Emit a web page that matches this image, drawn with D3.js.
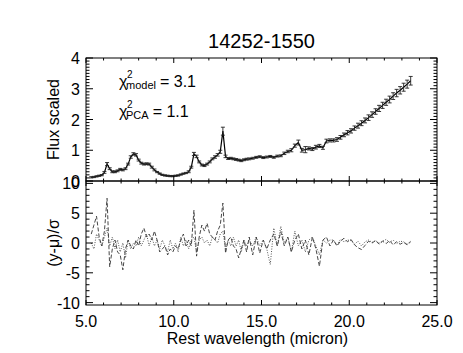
<!DOCTYPE html>
<html><head><meta charset="utf-8">
<script src="https://cdn.jsdelivr.net/npm/d3@7"></script>
<style>
html,body{margin:0;padding:0;background:#fff;}
svg{display:block;font-family:"Liberation Sans",Arial,Helvetica,sans-serif;}
</style></head>
<body>
<svg id="c" width="463" height="353"></svg>
<script>
const title = "14252-1550";
const wave = [5.3,5.45,5.6,5.75,5.9,6.05,6.2,6.35,6.5,6.65,6.8,6.95,7.1,7.25,7.4,7.55,7.7,7.85,8.0,8.15,8.3,8.45,8.6,8.75,8.9,9.05,9.2,9.35,9.5,9.65,9.8,9.95,10.1,10.25,10.4,10.55,10.7,10.85,11.0,11.15,11.3,11.45,11.6,11.75,11.9,12.05,12.2,12.35,12.5,12.65,12.8,12.95,13.1,13.25,13.4,13.55,13.7,13.85,14.0,14.15,14.3,
14.5,14.7,14.9,15.1,15.3,15.5,15.7,15.9,16.1,16.3,16.5,16.7,16.9,17.1,17.3,17.5,17.7,17.9,18.1,18.3,18.5,18.7,18.9,19.1,19.3,19.5,19.7,19.9,20.1,20.3,20.5,20.7,20.9,21.1,21.3,21.5,21.7,21.9,22.1,22.3,22.5,22.7,22.9,23.1,23.3,23.5];
const flux = [0.12,0.13,0.15,0.17,0.19,0.28,0.55,0.40,0.30,0.30,0.33,0.38,0.36,0.40,0.55,0.78,0.88,0.85,0.68,0.58,0.55,0.56,0.55,0.45,0.36,0.29,0.24,0.20,0.18,0.17,0.16,0.16,0.17,0.18,0.21,0.24,0.26,0.30,0.45,0.88,0.80,0.62,0.52,0.50,0.55,0.62,0.72,0.78,0.85,0.95,1.62,0.80,0.73,0.74,0.72,0.70,0.68,0.66,0.69,0.71,0.72,
0.74,0.77,0.79,0.76,0.78,0.80,0.77,0.81,0.82,0.90,0.96,1.00,1.15,1.25,1.00,1.02,1.06,1.04,1.10,1.14,1.08,1.30,1.32,1.32,1.35,1.42,1.50,1.57,1.63,1.72,1.80,1.88,1.97,2.06,2.16,2.26,2.36,2.46,2.56,2.65,2.76,2.86,2.95,3.05,3.15,3.26];
const fluxErr = [0.02,0.02,0.02,0.02,0.02,0.03,0.05,0.03,0.03,0.03,0.03,0.03,0.03,0.03,0.03,0.04,0.04,0.04,0.03,0.03,0.03,0.03,0.03,0.03,0.03,0.02,0.02,0.02,0.02,0.02,0.02,0.02,0.02,0.02,0.02,0.02,0.02,0.03,0.03,0.05,0.04,0.03,0.03,0.03,0.03,0.03,0.03,0.04,0.04,0.05,0.13,0.04,0.03,0.03,0.03,0.03,0.03,0.03,0.03,0.03,0.03,
0.03,0.03,0.03,0.03,0.03,0.03,0.03,0.03,0.03,0.04,0.04,0.05,0.05,0.08,0.06,0.10,0.05,0.05,0.06,0.05,0.05,0.06,0.05,0.05,0.06,0.06,0.06,0.07,0.07,0.07,0.08,0.08,0.08,0.09,0.09,0.09,0.10,0.10,0.10,0.11,0.11,0.12,0.12,0.13,0.13,0.14];
const residModel = [1.5,3.0,4.5,1.0,-0.5,2.0,7.5,-4.0,-1.0,0.5,-1.5,-2.0,-4.5,-1.0,0.5,-0.5,-1.0,0.5,-0.5,1.5,2.5,1.0,1.5,0.5,2.0,0.5,-1.5,-1.0,-0.5,-2.0,-1.0,-1.5,-0.5,-1.0,0.5,1.5,-0.5,0.5,-0.5,5.5,-2.2,1.0,3.0,2.0,3.3,1.5,1.0,0.5,2.0,3.0,6.7,-1.7,0.5,1.0,-0.5,-1.0,-2.5,-1.0,0.5,-1.5,1.0,
-2.0,1.0,-1.7,0.5,-1.0,0.5,1.5,-0.5,1.9,-0.5,1.0,-1.5,0.5,1.5,-1.0,0.5,-2.0,1.0,-1.0,-3.9,0.5,1.0,-0.5,0.5,-0.5,0.3,0.8,0.2,0.6,-0.3,-0.8,-1.1,-0.4,0.3,0.0,0.4,-0.2,0.3,-0.1,0.4,-0.3,0.2,-0.2,0.1,-0.3,0.2];
const residPCA = [0.0,-1.0,1.5,0.5,-0.5,1.0,2.5,-0.5,1.0,-1.0,0.5,-1.5,0.0,-2.5,0.5,-1.0,0.0,-0.5,1.0,-0.5,0.5,1.5,-0.5,1.0,-0.5,0.5,-1.0,0.5,-0.5,-1.5,0.5,-1.0,0.0,-1.5,1.0,-0.5,0.5,-1.0,0.5,1.0,-1.5,0.5,1.0,0.0,0.5,-0.5,1.0,0.5,0.0,1.5,2.0,-1.0,0.5,-0.5,1.0,-0.5,0.5,-1.5,0.5,-0.5,0.5,
-0.5,1.0,-0.5,0.5,-1.0,-3.6,2.5,-0.5,2.8,0.0,1.0,-1.5,2.0,-0.5,0.5,-1.5,0.5,1.0,-0.5,-2.0,0.5,0.0,0.5,0.5,-0.3,0.6,0.2,0.5,0.4,-0.2,0.3,-0.5,0.2,0.5,0.1,0.4,0.0,0.3,0.6,0.1,0.5,-0.1,0.3,0.2,-0.2,0.3];
const xTicks = [5,10,15,20,25];
const xTickLabels = ["5.0","10.0","15.0","20.0","25.0"];
const yTopTicks = [0,1,2,3,4];
const yBotTicks = [-10,-5,0,5,10];
const chiModel = "3.1", chiPCA = "1.1";

const svg = d3.select("#c");
const L=86, R=437, T=58, M=181, B=305;
const x = d3.scaleLinear().domain([5,25]).range([L,R]);
const yT = d3.scaleLinear().domain([0,4]).range([M,T]);
const yB = d3.scaleLinear().domain([-10.4,10.4]).range([B,M]);
const fs = 16;

function axisLines(){
  const minorX = d3.range(5,25.01,1);
  [[T,1],[M,-1],[M,1],[B,-1]].forEach(([yy,dir])=>{
    minorX.forEach(v=>{
      const major = xTicks.includes(v);
      const len = major?5:2.5;
      svg.append("line").attr("x1",x(v)).attr("x2",x(v)).attr("y1",yy).attr("y2",yy+dir*len)
        .attr("stroke","#000").attr("stroke-width",1);
    });
  });
  d3.range(0,40.5,1).map(v=>v/10).forEach(v=>{
    const major = Math.abs(v-Math.round(v))<1e-6;
    const len = major?7:3.5;
    [[L,1],[R,-1]].forEach(([xx,dir])=>{
      svg.append("line").attr("x1",xx).attr("x2",xx+dir*len).attr("y1",yT(v)).attr("y2",yT(v))
        .attr("stroke","#000").attr("stroke-width",1);
    });
  });
  d3.range(-10,10.5,1).forEach(v=>{
    const major = v%5===0;
    const len = major?7:3.5;
    [[L,1],[R,-1]].forEach(([xx,dir])=>{
      svg.append("line").attr("x1",xx).attr("x2",xx+dir*len).attr("y1",yB(v)).attr("y2",yB(v))
        .attr("stroke","#000").attr("stroke-width",1);
    });
  });
}

const line = d3.line().x((d,i)=>x(wave[i])).y(d=>yT(d));
svg.append("path").datum(flux).attr("d",line).attr("fill","none").attr("stroke","#000").attr("stroke-width",1.2);
const eg = svg.append("g").attr("stroke","#222").attr("stroke-width",0.9);
flux.forEach((f,i)=>{
  const xx=x(wave[i]), y1=yT(f-fluxErr[i]), y2=yT(f+fluxErr[i]);
  eg.append("line").attr("x1",xx).attr("x2",xx).attr("y1",y1).attr("y2",y2);
  eg.append("line").attr("x1",xx-2).attr("x2",xx+2).attr("y1",y1).attr("y2",y1);
  eg.append("line").attr("x1",xx-2).attr("x2",xx+2).attr("y1",y2).attr("y2",y2);
});

const lineB = d3.line().x((d,i)=>x(wave[i])).y(d=>yB(d));
svg.append("path").datum(residModel).attr("d",lineB).attr("fill","none").attr("stroke","#333").attr("stroke-width",0.9).attr("stroke-dasharray","4,2");
svg.append("path").datum(residPCA).attr("d",lineB).attr("fill","none").attr("stroke","#444").attr("stroke-width",0.9).attr("stroke-dasharray","1,1.5");

svg.append("rect").attr("x",L).attr("y",T).attr("width",R-L).attr("height",M-T).attr("fill","none").attr("stroke","#000");
svg.append("rect").attr("x",L).attr("y",M).attr("width",R-L).attr("height",B-M).attr("fill","none").attr("stroke","#000");
axisLines();

xTicks.forEach((v,i)=>{
  svg.append("text").attr("x",x(v)).attr("y",327).attr("text-anchor","middle").attr("font-size",fs).text(xTickLabels[i]);
});
yTopTicks.forEach(v=>{
  svg.append("text").attr("x",80).attr("y",yT(v)+6).attr("text-anchor","end").attr("font-size",fs).text(v);
});
yBotTicks.forEach(v=>{
  svg.append("text").attr("x",80).attr("y",yB(v)+6).attr("text-anchor","end").attr("font-size",fs).text(v);
});
svg.append("text").attr("x",(L+R)/2).attr("y",48).attr("text-anchor","middle").attr("font-size",20).text(title);
svg.append("text").attr("x",(L+R)/2-4).attr("y",344).attr("text-anchor","middle").attr("font-size",fs).text("Rest wavelength (micron)");
svg.append("text").attr("transform",`translate(59,${(T+M)/2}) rotate(-90)`).attr("text-anchor","middle").attr("font-size",fs).text("Flux scaled");
svg.append("text").attr("transform",`translate(59,${yB(0)}) rotate(-90)`).attr("text-anchor","middle").attr("font-size",fs).text("(y-μ)/σ");

function chi(y0, sub, val){
  const g = svg.append("g");
  g.append("text").attr("x",119).attr("y",y0).attr("font-size",fs).text("χ");
  g.append("text").attr("x",127).attr("y",y0-9).attr("font-size",10).text("2");
  const s = g.append("text").attr("x",126).attr("y",y0+2).attr("font-size",11).text(sub);
  const w = s.node().getComputedTextLength();
  g.append("text").attr("x",126+w+4).attr("y",y0).attr("font-size",fs).text("= "+val);
}
chi(87,"model",chiModel);
chi(117,"PCA",chiPCA);
</script>
</body></html>
